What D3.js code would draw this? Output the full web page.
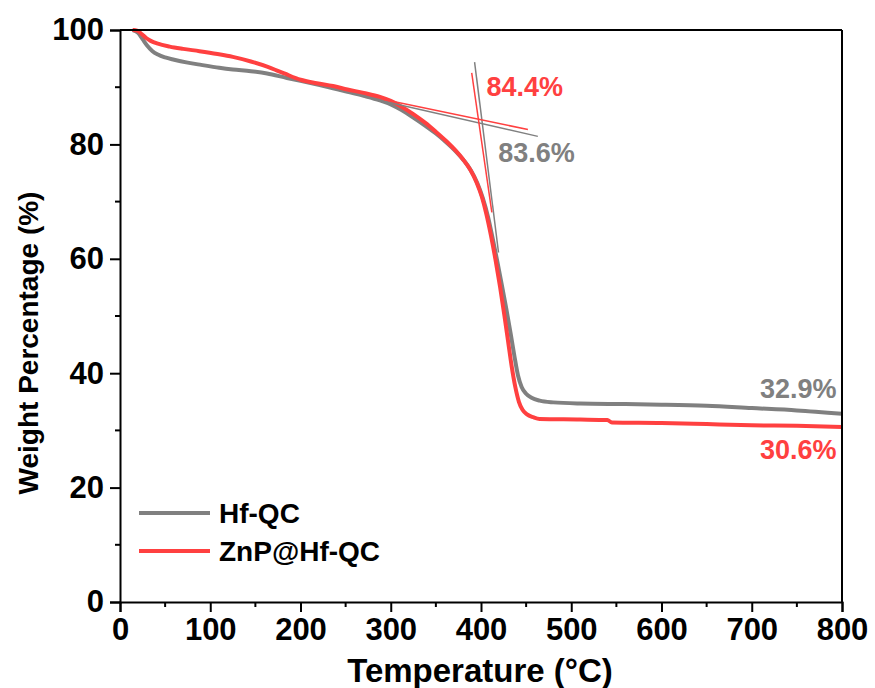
<!DOCTYPE html>
<html>
<head>
<meta charset="utf-8">
<script src="https://cdn.jsdelivr.net/npm/d3@7"></script>
<style>
  body { margin: 0; background: #fff; }
  text { font-family: "Liberation Sans", Arial, sans-serif; font-weight: bold; }
</style>
</head>
<body>
<script>
// TGA curves: [temperature °C, weight %]
const hfQC = [
  [14, 100], [20, 99.5], [25, 98.4], [30, 97.3], [36, 96.3], [42, 95.7], [50, 95.2],
  [60, 94.8], [75, 94.3], [90, 93.9], [110, 93.4], [125, 93.1], [145, 92.8],
  [163, 92.4], [185, 91.6], [200, 91.1], [220, 90.4], [236, 89.8], [252, 89.2],
  [270, 88.5], [288, 87.7], [300, 87.0], [312, 86.0], [325, 84.7], [338, 83.3],
  [350, 81.9], [362, 80.3], [372, 78.8], [381, 77.2], [389, 75.4], [396, 73.2],
  [402, 70.6], [408, 67.2], [413, 63.5], [418, 59.6], [423, 55.5], [428, 51.3],
  [433, 46.8], [437, 43.0], [441, 39.6], [445, 37.6], [450, 36.4], [456, 35.7],
  [465, 35.2], [480, 34.9], [510, 34.7], [560, 34.6], [600, 34.5], [650, 34.3],
  [700, 33.9], [750, 33.5], [800, 32.9]
];
const znpHfQC = [
  [14, 100], [19, 99.9], [24, 99.3], [29, 98.6], [34, 98.1], [42, 97.6], [55, 97.1],
  [70, 96.7], [88, 96.3], [108, 95.8], [125, 95.3], [145, 94.5], [163, 93.6],
  [182, 92.4], [200, 91.3], [218, 90.7], [236, 90.2], [252, 89.6], [270, 89.0],
  [288, 88.3], [300, 87.6], [312, 86.6], [325, 85.3], [338, 83.8], [350, 82.2],
  [362, 80.5], [372, 78.9], [380, 77.4], [388, 75.6], [395, 73.4], [401, 70.8],
  [406, 67.8], [411, 64.1], [416, 59.9], [421, 55.2], [426, 50.0], [430, 45.6],
  [434, 41.2], [438, 37.6], [442, 35.0], [446, 33.6], [451, 32.8], [458, 32.3],
  [465, 32.0], [510, 31.9], [540, 31.8], [545, 31.4], [600, 31.3], [650, 31.1],
  [700, 30.9], [750, 30.8], [800, 30.6]
];

// onset tangent lines
const hfTangents = [
  [[291, 87.6], [463, 81.4]],
  [[392.9, 94.4], [419.4, 61.1]]
];
const znpTangents = [
  [[291, 87.9], [452, 82.6]],
  [[389.7, 92.5], [412, 68.1]]
];

const seriesNames = ["Hf-QC", "ZnP@Hf-QC"];
const seriesColors = ["#808080", "#ff4040"];

// value labels: [temperature, weight, text]
const onsetLabels = [
  { T: 406, W: 88.4, text: "84.4%", series: 1 },
  { T: 419, W: 76.9, text: "83.6%", series: 0 },
  { T: 794, W: 35.6, text: "32.9%", series: 0, anchor: "end" },
  { T: 794, W: 25.0, text: "30.6%", series: 1, anchor: "end" }
];

const xTicks = [0, 100, 200, 300, 400, 500, 600, 700, 800];
const yTicks = [0, 20, 40, 60, 80, 100];

const width = 875, height = 688;
const plotLeft = 120, plotRight = 842, plotTop = 30, plotBottom = 602;

const svg = d3.select("body").append("svg")
  .attr("width", width)
  .attr("height", height);

const x = d3.scaleLinear().domain([0, 800]).range([plotLeft, plotRight]);
const y = d3.scaleLinear().domain([0, 100]).range([plotBottom, plotTop]);

const line = d3.line()
  .x(d => x(d[0]))
  .y(d => y(d[1]))
  .curve(d3.curveMonotoneX);

// curves
[hfQC, znpHfQC].forEach((data, i) => {
  svg.append("path")
    .datum(data)
    .attr("d", line)
    .attr("fill", "none")
    .attr("stroke", seriesColors[i])
    .attr("stroke-width", 4)
    .attr("stroke-linejoin", "round");
});

// tangent lines
[hfTangents, znpTangents].forEach((set, i) => {
  set.forEach(seg => {
    svg.append("line")
      .attr("x1", x(seg[0][0])).attr("y1", y(seg[0][1]))
      .attr("x2", x(seg[1][0])).attr("y2", y(seg[1][1]))
      .attr("stroke", seriesColors[i])
      .attr("stroke-width", 1.5);
  });
});

// axes
const xAxis = d3.axisBottom(x).tickValues(xTicks).tickSize(10).tickPadding(6);
const yAxis = d3.axisLeft(y).tickValues(yTicks).tickSize(10).tickPadding(6);

const gx = svg.append("g").attr("transform", `translate(0,${plotBottom})`).call(xAxis);
const gy = svg.append("g").attr("transform", `translate(${plotLeft},0)`).call(yAxis);

// minor ticks
gx.selectAll(".minor").data(d3.range(50, 800, 100)).enter().append("line")
  .attr("x1", d => x(d)).attr("x2", d => x(d))
  .attr("y1", 0).attr("y2", 5)
  .attr("stroke", "#000").attr("stroke-width", 2);
gy.selectAll(".minor").data(d3.range(10, 100, 20)).enter().append("line")
  .attr("y1", d => y(d)).attr("y2", d => y(d))
  .attr("x1", 0).attr("x2", -5)
  .attr("stroke", "#000").attr("stroke-width", 2);

[gx, gy].forEach(g => {
  g.select(".domain").attr("stroke", "#000").attr("stroke-width", 2);
  g.selectAll(".tick line").attr("stroke", "#000").attr("stroke-width", 2);
  g.selectAll(".tick text")
    .attr("fill", "#000")
    .style("font-size", "31px")
    .style("font-family", "'Liberation Sans', Arial, sans-serif")
    .style("font-weight", "bold");
});

// frame on top and right
svg.append("line")
  .attr("x1", plotLeft).attr("x2", plotRight).attr("y1", plotTop).attr("y2", plotTop)
  .attr("stroke", "#000").attr("stroke-width", 2);
svg.append("line")
  .attr("x1", plotRight).attr("x2", plotRight).attr("y1", plotTop).attr("y2", plotBottom)
  .attr("stroke", "#000").attr("stroke-width", 2);

// axis titles
svg.append("text")
  .attr("x", 480)
  .attr("y", 682)
  .attr("text-anchor", "middle")
  .style("font-size", "33px")
  .text("Temperature (°C)");

svg.append("text")
  .attr("transform", "translate(38,343) rotate(-90)")
  .attr("text-anchor", "middle")
  .style("font-size", "28px")
  .text("Weight Percentage (%)");

// value labels
svg.selectAll(".val").data(onsetLabels).enter().append("text")
  .attr("x", d => x(d.T))
  .attr("y", d => y(d.W))
  .attr("text-anchor", d => d.anchor || "start")
  .attr("fill", d => seriesColors[d.series])
  .style("font-size", "27px")
  .text(d => d.text);

// legend
const legend = svg.append("g").attr("transform", "translate(139,513)");
seriesNames.forEach((name, i) => {
  const row = legend.append("g").attr("transform", `translate(0,${i * 38})`);
  row.append("line")
    .attr("x1", 0).attr("x2", 71)
    .attr("stroke", seriesColors[i])
    .attr("stroke-width", 4);
  row.append("text")
    .attr("x", 80).attr("y", 10)
    .style("font-size", "28px")
    .text(name);
});
</script>
</body>
</html>
